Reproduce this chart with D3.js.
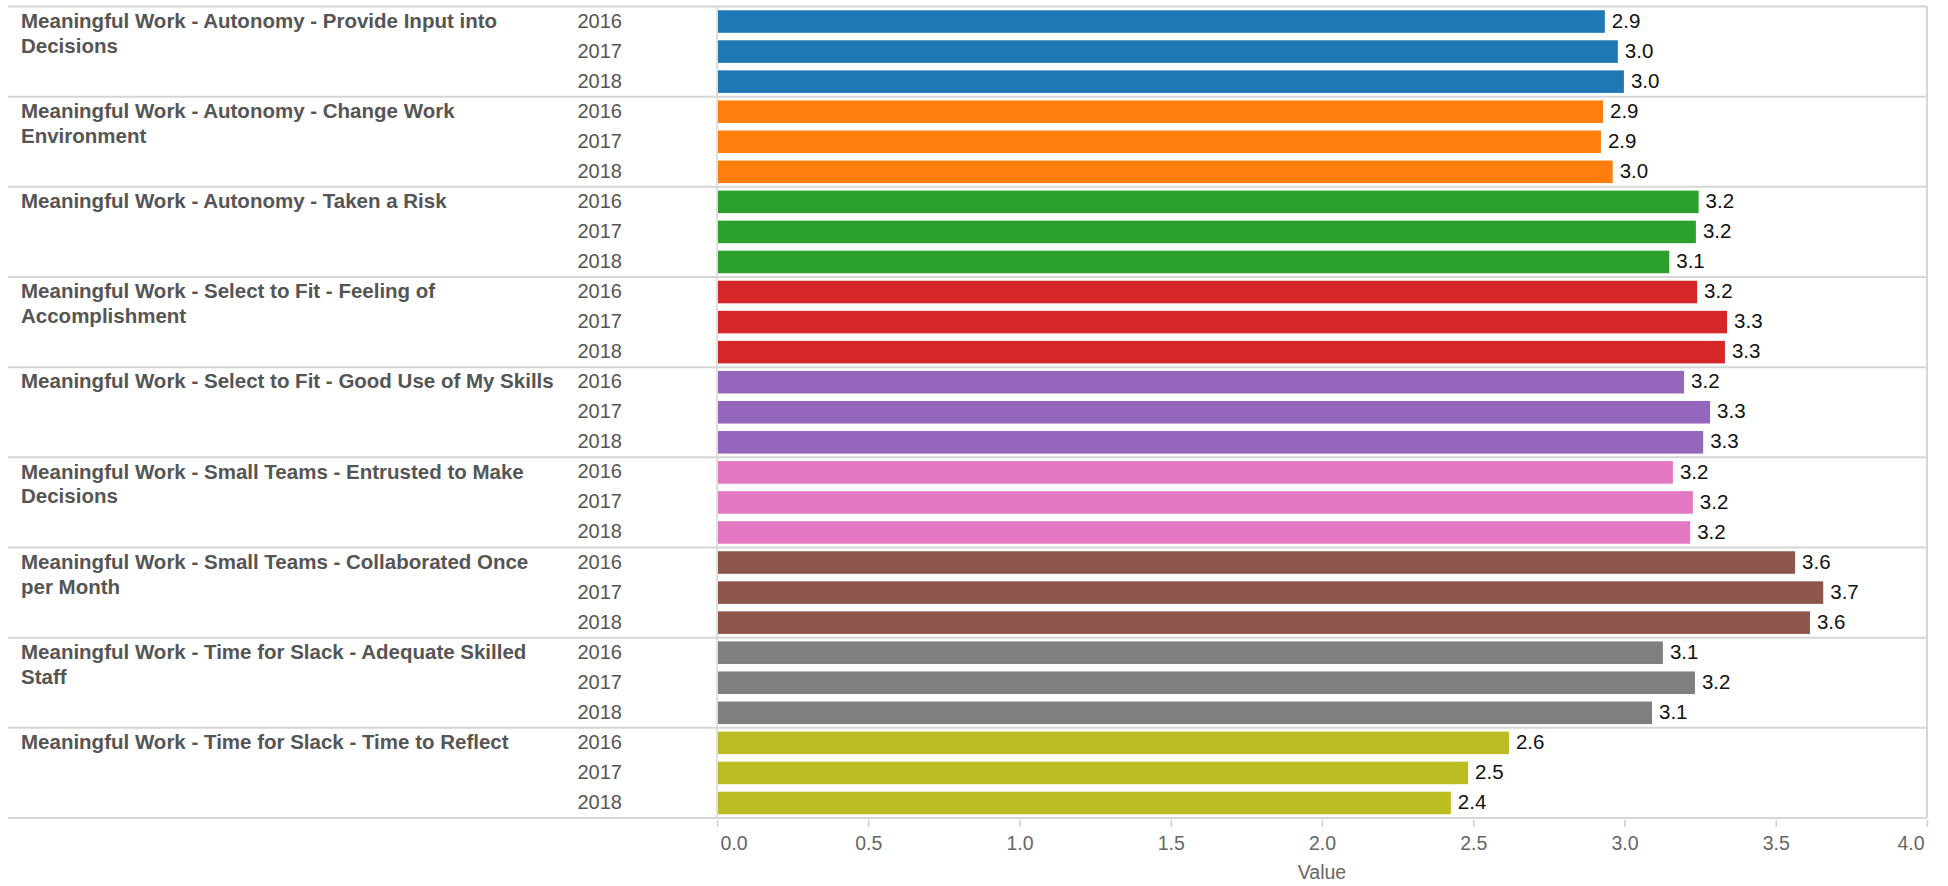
<!DOCTYPE html>
<html>
<head>
<meta charset="utf-8">
<script src="https://cdn.jsdelivr.net/npm/d3@7"></script>
<style>
  html, body { margin: 0; padding: 0; background: #fff; }
  svg { display: block; font-family: "Liberation Sans", Arial, sans-serif; }
</style>
</head>
<body>
<svg id="chart" width="1948" height="886"></svg>
<script>
const categories = [
  "Meaningful Work - Autonomy - Provide Input into Decisions",
  "Meaningful Work - Autonomy - Change Work Environment",
  "Meaningful Work - Autonomy - Taken a Risk",
  "Meaningful Work - Select to Fit - Feeling of Accomplishment",
  "Meaningful Work - Select to Fit - Good Use of My Skills",
  "Meaningful Work - Small Teams - Entrusted to Make Decisions",
  "Meaningful Work - Small Teams - Collaborated Once per Month",
  "Meaningful Work - Time for Slack - Adequate Skilled Staff",
  "Meaningful Work - Time for Slack - Time to Reflect"
];
const years = ["2016", "2017", "2018"];
const values2016 = [2.935, 2.929, 3.245, 3.240, 3.197, 3.160, 3.564, 3.127, 2.618];
const values2017 = [2.978, 2.922, 3.236, 3.339, 3.283, 3.226, 3.657, 3.233, 2.483];
const values2018 = [2.998, 2.961, 3.148, 3.332, 3.260, 3.217, 3.613, 3.091, 2.426];
const colors = ["#1f77b4", "#ff7f0e", "#2ca02c", "#d62728", "#9467bd", "#e377c2", "#8c564b", "#7f7f7f", "#bcbd22"];
const xTicks = [0, 0.5, 1.0, 1.5, 2.0, 2.5, 3.0, 3.5, 4.0];
const xTitle = "Value";

(function () {
const seriesByYear = [values2016, values2017, values2018];
const rows = [];
categories.forEach((c, i) => {
  years.forEach((y, j) => rows.push({cat: c, year: y, value: seriesByYear[j][i], color: colors[i]}));
});

const svg = d3.select("#chart");
const L = 8, R = 1927, T = 6.5, B = 818, X0 = 717;
const grid = "#d6d6d6";

const x = d3.scaleLinear().domain([0, 4]).range([X0, R]);
const yCat = d3.scaleBand().domain(categories).range([T, B]).padding(0);
const yYear = d3.scaleBand().domain(years).range([0, yCat.bandwidth()])
  .paddingInner(0.25).paddingOuter(0.125);

svg.append("line").attr("x1", X0).attr("x2", X0).attr("y1", T).attr("y2", B)
  .attr("stroke", grid).attr("stroke-width", 1.5);
svg.append("line").attr("x1", R).attr("x2", R).attr("y1", T).attr("y2", B)
  .attr("stroke", grid).attr("stroke-width", 2);

svg.append("g").selectAll("line").data(categories).join("line")
  .attr("x1", L).attr("x2", R)
  .attr("y1", d => yCat(d)).attr("y2", d => yCat(d))
  .attr("stroke", grid).attr("stroke-width", 2);
svg.append("line").attr("x1", L).attr("x2", R).attr("y1", B).attr("y2", B)
  .attr("stroke", grid).attr("stroke-width", 2);

const barG = svg.append("g");
barG.selectAll("rect").data(rows).join("rect")
  .attr("x", x(0) + 1)
  .attr("y", d => yCat(d.cat) + yYear(d.year))
  .attr("width", d => x(d.value) - x(0) - 1)
  .attr("height", yYear.bandwidth())
  .attr("fill", d => d.color);

barG.selectAll("text").data(rows).join("text")
  .attr("x", d => x(d.value) + 7)
  .attr("y", d => yCat(d.cat) + yYear(d.year) + yYear.bandwidth() / 2 - 1)
  .attr("dy", "0.35em")
  .attr("font-size", 20.5)
  .attr("fill", "#111")
  .text(d => d3.format(".1f")(d.value));

svg.append("g").selectAll("text").data(rows).join("text")
  .attr("x", 622)
  .attr("y", d => yCat(d.cat) + yYear(d.year) + yYear.bandwidth() / 2 - 1)
  .attr("dy", "0.35em")
  .attr("text-anchor", "end")
  .attr("font-size", 20)
  .attr("fill", "#555")
  .text(d => d.year);

const labelSize = 20.5;
const maxW = 540;
const lineH = 24.8;
const catG = svg.append("g");
categories.forEach(c => {
  const yc = yCat(c) + yYear(years[0]) + yYear.bandwidth() / 2 - 1;
  const t = catG.append("text")
    .attr("x", 21).attr("y", yc)
    .attr("font-size", labelSize).attr("font-weight", "bold").attr("fill", "#555");
  const words = c.split(" ");
  let line = [];
  let tspan = t.append("tspan").attr("x", 21).attr("dy", "0.35em");
  words.forEach(w => {
    line.push(w);
    tspan.text(line.join(" "));
    if (tspan.node().getComputedTextLength() > maxW && line.length > 1) {
      line.pop();
      tspan.text(line.join(" "));
      line = [w];
      tspan = t.append("tspan").attr("x", 21).attr("dy", lineH).text(w);
    }
  });
});

const axis = svg.append("g").attr("transform", `translate(0,${B})`)
  .call(d3.axisBottom(x).tickValues(xTicks).tickFormat(d3.format(".1f")).tickSize(9).tickPadding(9));
axis.select(".domain").remove();
axis.selectAll(".tick line").attr("stroke", "#d0d0d0").attr("stroke-width", 1.5).attr("y1", 2);
axis.selectAll(".tick text").attr("font-size", 19.5).attr("fill", "#666")
  .attr("font-family", "Liberation Sans, Arial, sans-serif")
  .attr("text-anchor", (d, i, n) => i === 0 ? "start" : (i === n.length - 1 ? "end" : "middle"))
  .attr("dx", (d, i, n) => i === 0 ? 3 : (i === n.length - 1 ? -3 : 0));

svg.append("text")
  .attr("x", (X0 + R) / 2).attr("y", 879)
  .attr("text-anchor", "middle").attr("font-size", 19.5).attr("fill", "#666")
  .text(xTitle);
})();
</script>
</body>
</html>
